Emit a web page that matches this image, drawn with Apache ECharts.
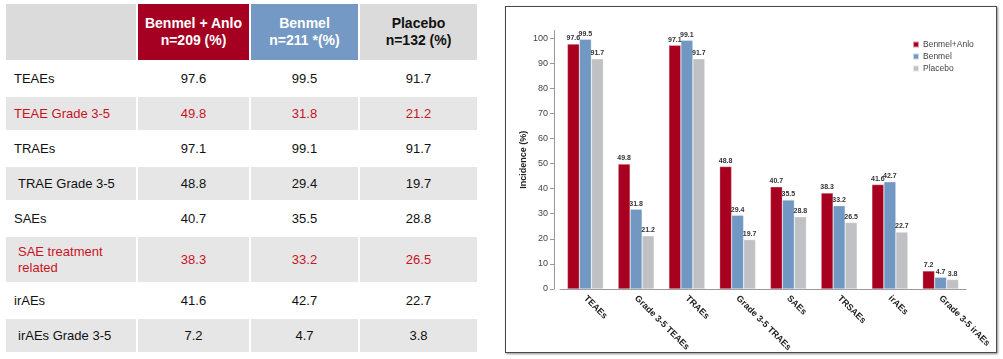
<!DOCTYPE html>
<html>
<head>
<meta charset="utf-8">
<script src="https://cdn.jsdelivr.net/npm/echarts@6/dist/echarts.min.js"></script>
<style>
  html, body { margin: 0; padding: 0; background: #fff; }
  body { width: 1003px; height: 359px; position: relative; overflow: hidden; font-family: "Liberation Sans", Arial, sans-serif; }
  #tbl { position: absolute; left: 6px; top: 4px; display: grid;
         grid-template-columns: 130px 111px 107px 117px;
         grid-template-rows: 56px 33px 33px 33px 33px 33px 45px 33px 33px;
         gap: 2px; }
  #tbl div { display: flex; align-items: center; justify-content: center; font-size: 13px; color: #111; line-height: 16px; }
  #tbl div.rl { justify-content: flex-start; padding-left: 8px; }
  #tbl div.ind { padding-left: 12px; }
  #tbl .g { background: #e7e6e7; }
  #tbl .red { color: #c8141e; }
  #tbl .h { font-weight: bold; font-size: 14px; line-height: 17px; text-align: center; }
  #tbl .h0 { background: #dbdbdb; }
  #tbl .h1 { background: #a50021; color: #fff; }
  #tbl .h2 { background: #7399c4; color: #fff; }
  #tbl .h3 { background: #dbdbdb; color: #111; }
  #box { position: absolute; left: 505px; top: 6px; width: 490px; height: 345px; border: 1.5px solid #4a4a4a; box-shadow: 1px 1px 2px rgba(0,0,0,0.45); }
  #chart { position: absolute; left: 0; top: 0; width: 1003px; height: 359px; }
</style>
</head>
<body>
<div id="tbl"></div>
<div id="box"></div>
<div id="chart"></div>
<script>
// ---- Table data ----
const tableHeaders = ["Benmel + Anlo<br>n=209 (%)", "Benmel<br>n=211 *(%)", "Placebo<br>n=132 (%)"];
const tableRows = ["TEAEs", "TEAE Grade 3-5", "TRAEs", "TRAE Grade 3-5", "SAEs", "SAE treatment<br>related", "irAEs", "irAEs Grade 3-5"];
const tableCombo = [97.6, 49.8, 97.1, 48.8, 40.7, 38.3, 41.6, 7.2];
const tableBenmel = [99.5, 31.8, 99.1, 29.4, 35.5, 33.2, 42.7, 4.7];
const tablePlacebo = [91.7, 21.2, 91.7, 19.7, 28.8, 26.5, 22.7, 3.8];
const redRows = [1, 5];
const indentRows = [3, 5, 7];

// ---- Chart data ----
const categories = ["TEAEs", "Grade 3-5 TEAEs", "TRAEs", "Grade 3-5 TRAEs", "SAEs", "TRSAEs", "irAEs", "Grade 3-5 irAEs"];
const seriesNames = ["Benmel+Anlo", "Benmel", "Placebo"];
const comboValues = [97.6, 49.8, 97.1, 48.8, 40.7, 38.3, 41.6, 7.2];
const benmelValues = [99.5, 31.8, 99.1, 29.4, 35.5, 33.2, 42.7, 4.7];
const placeboValues = [91.7, 21.2, 91.7, 19.7, 28.8, 26.5, 22.7, 3.8];
const yTicks = [0, 10, 20, 30, 40, 50, 60, 70, 80, 90, 100];

// build table
const tbl = document.getElementById('tbl');
let html = '<div class="h h0"></div>';
tableHeaders.forEach((h, i) => { html += '<div class="h h' + (i + 1) + '">' + h + '</div>'; });
tableRows.forEach((r, i) => {
  const g = i % 2 === 1 ? ' g' : '';
  const red = redRows.includes(i) ? ' red' : '';
  const ind = indentRows.includes(i) ? ' ind' : '';
  html += '<div class="rl' + g + red + ind + '">' + r + '</div>';
  [tableCombo, tableBenmel, tablePlacebo].forEach(arr => {
    html += '<div class="' + g + red + '">' + arr[i].toFixed(1) + '</div>';
  });
});
tbl.innerHTML = html;

// chart
const chart = echarts.init(document.getElementById('chart'), null, { renderer: 'canvas' });
const colors = ['#a8001f', '#7098c3', '#bfc1c4'];
const labelCfg = { show: true, position: 'top', distance: 2, fontSize: 7, fontWeight: 'bold', color: '#333', fontFamily: 'Liberation Sans, Arial', formatter: p => p.value.toFixed(1) };
const mk = (name, data, c) => ({
  name, type: 'bar', data, barWidth: 12, barGap: '0%',
  itemStyle: { color: c, borderColor: 'rgba(255,255,255,0.6)', borderWidth: 0.5 },
  label: labelCfg
});
chart.setOption({
  animation: false,
  backgroundColor: 'transparent',
  color: colors,
  textStyle: { fontFamily: 'Liberation Sans, Arial' },
  grid: { left: 560, width: 406, top: 30.5, bottom: 70, containLabel: false },
  legend: {
    orient: 'vertical', left: 907, top: 35, itemWidth: 6, itemHeight: 6, itemGap: 3,
    icon: 'rect', data: seriesNames,
    textStyle: { fontSize: 8.5, color: '#444', padding: [0, 0, 0, -1] }
  },
  xAxis: {
    type: 'category', data: categories,
    axisLine: { lineStyle: { color: '#999', width: 1 } },
    axisTick: { show: false },
    axisLabel: { rotate: -45, fontSize: 9, fontWeight: 'bold', color: '#222', margin: 8, interval: 0 }
  },
  yAxis: {
    type: 'value', min: 0, max: 103, offset: 6,
    name: 'Incidence (%)', nameLocation: 'middle', nameGap: 26, nameRotate: 90,
    nameTextStyle: { fontSize: 9, fontWeight: 'bold', color: '#222' },
    axisLine: { show: true, lineStyle: { color: '#999', width: 1 } },
    axisTick: { show: true, length: 4, lineStyle: { color: '#999' }, customValues: yTicks },
    axisLabel: { fontSize: 9, color: '#444', margin: 6, customValues: yTicks },
    splitLine: { show: false }
  },
  series: [
    mk(seriesNames[0], comboValues, colors[0]),
    mk(seriesNames[1], benmelValues, colors[1]),
    mk(seriesNames[2], placeboValues, colors[2])
  ]
});
</script>
</body>
</html>
